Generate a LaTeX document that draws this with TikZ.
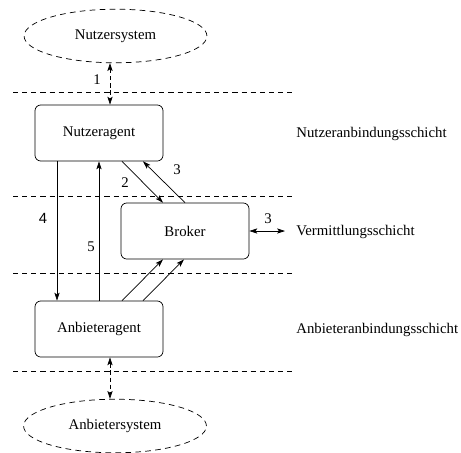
\documentclass[tikz,border=0pt]{standalone}
\usepackage{fontspec}
\setmainfont{Liberation Serif}
\newfontfamily\digitsans{Liberation Sans}
\usetikzlibrary{calc}
\usetikzlibrary{shapes.geometric, arrows, arrows.meta, positioning}
\tikzset{
  agent/.style={draw, rounded corners=4pt, minimum width=89.6pt, minimum height=39.2pt, inner sep=0pt},
  system/.style={draw, ellipse, dash pattern=on 4pt off 3pt, minimum width=128pt, minimum height=37.5pt, inner sep=0pt},
  layerline/.style={dash pattern=on 3.6pt off 2.8pt},
  msg/.style={-{Stealth[length=5.5pt, width=3.6pt, inset=1.2pt]}},
  both/.style={{Stealth[length=5.5pt, width=3.6pt, inset=1.2pt]}-{Stealth[length=5.5pt, width=3.6pt, inset=1.2pt]}},
  sysmsg/.style={both, dash pattern=on 3pt off 2pt},
  num/.style={inner sep=0pt},
  layer/.style={anchor=west, inner sep=0pt}
}

\begin{document}
\begin{tikzpicture}[x=0.7pt, y=-0.7pt, line width=0.5pt, font=\fontsize{10.35}{12}\selectfont]
\useasboundingbox (0,0) rectangle (461,452);

% Layer separators (dashed)
\foreach \y in {92,196,273,371}
{
    \draw[layerline] (13,\y) -- (292,\y);
}

% Systems and agents
\node[system] (ns) at (115.5,36) {Nutzersystem};
\node[agent] (na) at (99,133) {Nutzeragent};
\node[agent] (br) at (185,231) {Broker};
\node[agent] (aa) at (99,329) {Anbieteragent};
\node[system] (as) at (115,426) {Anbietersystem};

% Layer names
\node[layer] (lnutzer) at (296,134) {Nutzeranbindungsschicht};
\node[layer] (lvermittl) at (296,232) {Vermittlungsschicht};
\node[layer] (lanbieter) at (296,330) {Anbieteranbindungsschicht};

% Nutzersystem <-> Nutzeragent
\draw[sysmsg] ($(ns.south)+(-5.5,0)$) -- ($(na.north)+(11,0)$);
\node[num] (n1) at (97,80) {1};

% Nutzeragent <-> Broker
\draw[msg] ($(na.south)+(23,0)$) -- ($(br.north)+(-22,0)$);
\node[num] (n2) at (125,183) {2};
\draw[msg] (br.north) -- ($(na.south)+(44,0)$);
\node[num] (n3) at (177,170) {3};

% Nutzeragent <-> Anbieteragent
\draw[msg] ($(na.south)+(-42,0)$) -- ($(aa.north)+(-42,0)$);
\node[num] (n4) at (43,218) {\digitsans 4};
\draw[msg] (aa.north) -- (na.south);
\node[num] (n5) at (91,247) {5};

% Anbieteragent -> Broker
\draw[msg] ($(aa.north)+(23,0)$) -- ($(br.south)+(-22,0)$);
\draw[msg] ($(aa.north)+(44,0)$) -- ($(br.south)+(-1,0)$);

% Broker <-> outside
\coordinate (bx) at (285,231);
\draw[both] (br.east) -- (bx);
\node[num] (n3b) at (268,219) {3};

% Anbieteragent <-> Anbietersystem
\draw[sysmsg] ($(aa.south)+(11,0)$) -- ($(as.north)+(-5,0)$);

\end{tikzpicture}
\end{document}
